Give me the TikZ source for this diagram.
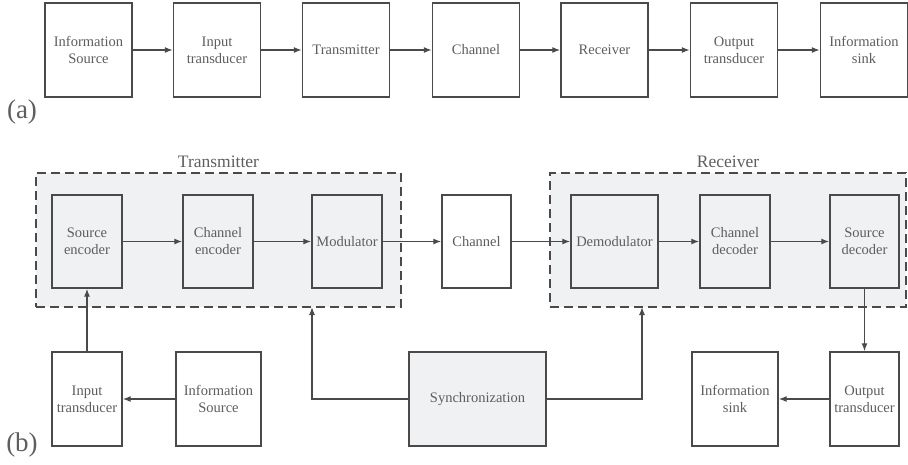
\documentclass[tikz,border=0pt]{standalone}
\usepackage{fontspec}
\setmainfont{Liberation Serif}
\usepackage{xcolor}
\usepackage{tikz}
\usetikzlibrary{
  arrows.meta,
  positioning
}
\definecolor{linecolor}{HTML}{4A4A4A}
\definecolor{textcolor}{HTML}{5E5E5E}
\definecolor{blockfill}{HTML}{F0F1F3}

\begin{document}
\begin{tikzpicture}[
  x=1pt, y=-1pt,
  every node/.style={text=textcolor},
  block/.style={draw=linecolor, line width=1.4pt, fill=white,
                minimum height=94pt, inner sep=0pt, align=center,
                font=\fontsize{14.5}{17}\selectfont},
  gblock/.style={block, fill=blockfill},
  group/.style={draw=linecolor, line width=1.4pt, fill=blockfill,
                dash pattern=on 9pt off 5pt, inner sep=0pt,
                minimum width=#1, minimum height=134pt},
  arrow/.style={-{Latex[length=8pt,width=6pt]}, line width=1.3pt, draw=linecolor},
  grouplbl/.style={font=\fontsize{17.5}{20}\selectfont},
  partlbl/.style={font=\fontsize{27}{29}\selectfont},
]
  \useasboundingbox (0,0) rectangle (908,464);

  % (a) block chain
  \node[block, minimum width=87pt] (a1) at (88.5, 50) {Information\\Source};
  \node[block, minimum width=87pt] (a2) at (217, 50)  {Input\\transducer};
  \node[block, minimum width=87pt] (a3) at (346, 50)  {Transmitter};
  \node[block, minimum width=87pt] (a4) at (476, 50)  {Channel};
  \node[block, minimum width=87pt] (a5) at (604.5, 50) {Receiver};
  \node[block, minimum width=87pt] (a6) at (734, 50)  {Output\\transducer};
  \node[block, minimum width=87pt] (a7) at (864, 50)  {Information\\sink};

  \draw[arrow] (a1.east) -- (a2.west);
  \draw[arrow] (a2.east) -- (a3.west);
  \draw[arrow] (a3.east) -- (a4.west);
  \draw[arrow] (a4.east) -- (a5.west);
  \draw[arrow] (a5.east) -- (a6.west);
  \draw[arrow] (a6.east) -- (a7.west);

  \node[partlbl] (parta) at (22, 112) {(a)};

  % (b) transmitter and receiver groups
  \node[group=365pt] (tx) at (218.5, 240) {};
  \node[group=356pt] (rx) at (728, 240) {};
  \node[grouplbl, above=1pt of tx] (txlbl) {Transmitter};
  \node[grouplbl, above=1pt of rx] (rxlbl) {Receiver};

  \node[gblock, minimum width=70pt, minimum height=93pt] (srcenc) at (87, 241.5) {Source\\encoder};
  \node[gblock, minimum width=70pt, minimum height=93pt] (chenc) at (218, 241.5) {Channel\\encoder};
  \node[gblock, minimum width=70pt, minimum height=93pt] (mod) at (347, 241.5) {Modulator};
  \node[block, minimum width=69pt, minimum height=93pt] (chan) at (476.5, 241.5) {Channel};
  \node[gblock, minimum width=87pt, minimum height=93pt] (demod) at (614.5, 241.5) {Demodulator};
  \node[gblock, minimum width=70pt, minimum height=93pt] (chdec) at (735, 241.5) {Channel\\decoder};
  \node[gblock, minimum width=69pt, minimum height=93pt] (srcdec) at (864.5, 241.5) {Source\\decoder};

  \draw[arrow] (srcenc.east) -- (chenc.west);
  \draw[arrow] (chenc.east) -- (mod.west);
  \draw[arrow] (mod.east) -- (chan.west);
  \draw[arrow] (chan.east) -- (demod.west);
  \draw[arrow] (demod.east) -- (chdec.west);
  \draw[arrow] (chdec.east) -- (srcdec.west);

  % bottom row
  \node[block, minimum width=70pt] (intrans) at (87, 399) {Input\\transducer};
  \node[block, minimum width=85pt] (infosrc) at (218.5, 399) {Information\\Source};
  \node[gblock, minimum width=137pt] (sync) at (477.5, 399) {Synchronization};
  \node[block, minimum width=86pt] (sink) at (735, 399) {Information\\sink};
  \node[block, minimum width=69pt] (outtrans) at (864.5, 399) {Output\\transducer};

  \coordinate (txin) at (312, 307);
  \coordinate (rxin) at (642, 307);

  \draw[arrow] (infosrc.west) -- (intrans.east);
  \draw[arrow] (intrans.north) -- (srcenc.south);
  \draw[arrow] (sync.west) -| (txin);
  \draw[arrow] (sync.east) -| (rxin);
  \draw[arrow] (srcdec.south) -- (outtrans.north);
  \draw[arrow] (outtrans.west) -- (sink.east);

  \node[partlbl] (partb) at (22, 445) {(b)};
\end{tikzpicture}
\end{document}
